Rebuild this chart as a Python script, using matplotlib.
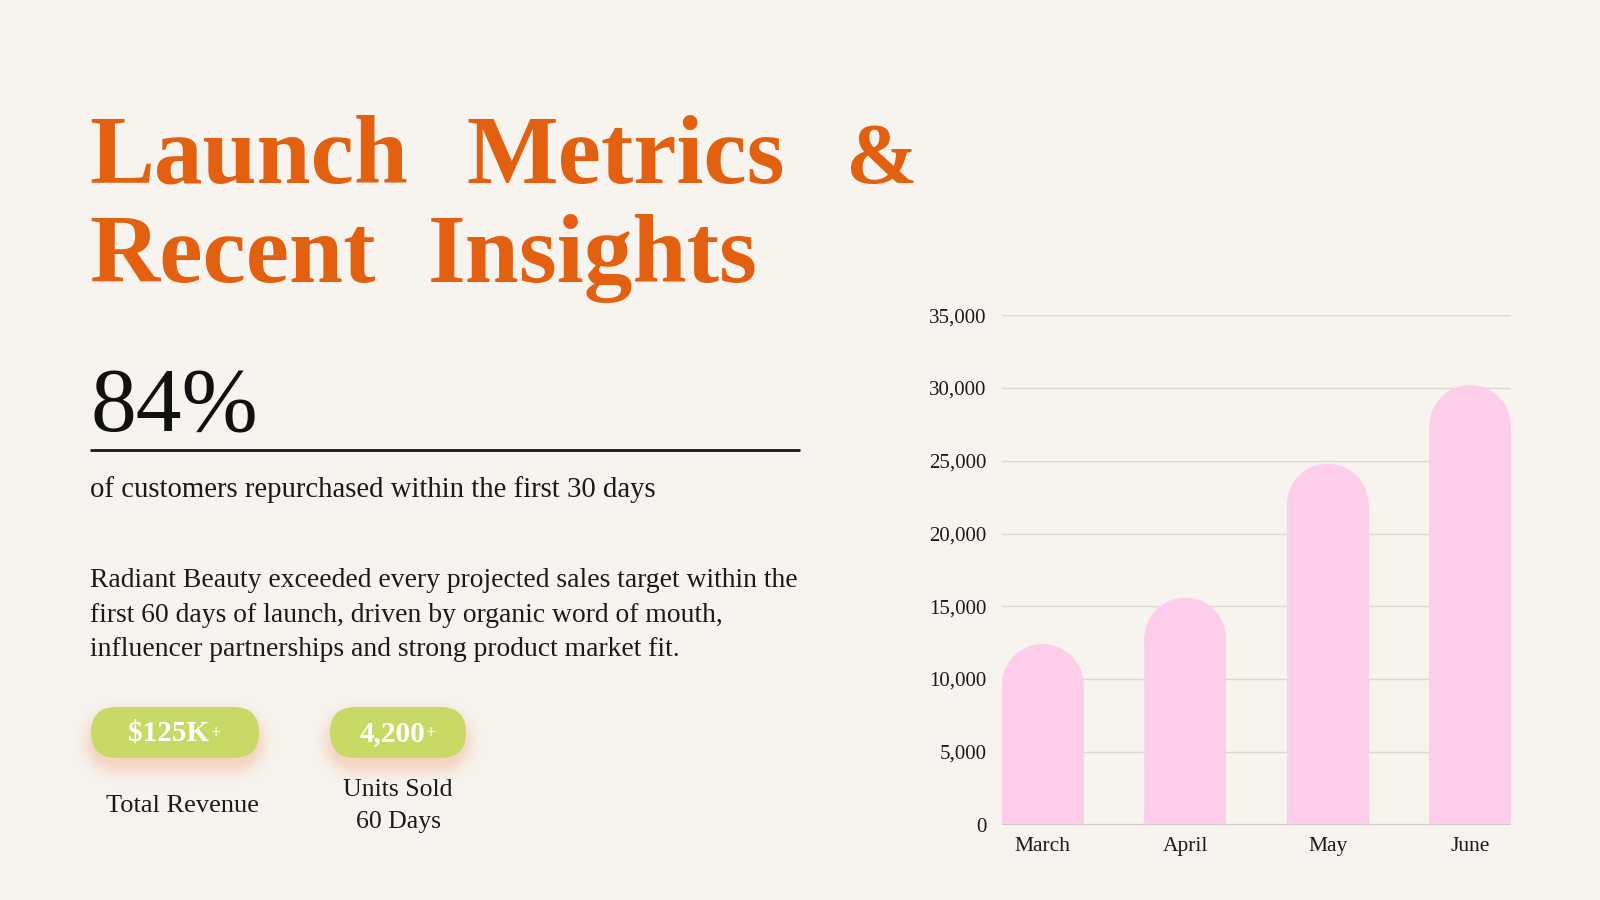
import numpy as np
import matplotlib
matplotlib.use("Agg")
import matplotlib.pyplot as plt
from matplotlib.patches import FancyBboxPatch, Ellipse
from matplotlib.ticker import FuncFormatter

# ---------------- data ----------------
months = ["March", "April", "May", "June"]
sales = [12400, 15600, 24800, 30200]
y_ticks = [0, 5000, 10000, 15000, 20000, 25000, 30000, 35000]

title_line1 = ["Launch", "Metrics", "&"]
title_line2 = ["Recent", "Insights"]
big_stat = "84%"
stat_caption = "of customers repurchased within the first 30 days"
paragraph = ["Radiant Beauty exceeded every projected sales target within the",
             "first 60 days of launch, driven by organic word of mouth,",
             "influencer partnerships and strong product market fit."]
pill_values = ["$125K", "4,200"]
pill_labels = ["Total Revenue", "Units Sold\n60 Days"]

# ---------------- style ----------------
BG = "#F7F4EF"
ORANGE = "#E2600F"
GREEN = "#C8D966"
PINK = "#FECDE9"
GRID = "#DCD8D2"
SERIF = ["Liberation Serif", "DejaVu Serif"]

plt.rcParams["font.family"] = SERIF

fig = plt.figure(figsize=(16, 9), dpi=100)
fig.patch.set_facecolor(BG)

# overlay in pixel coordinates
ov = fig.add_axes([0, 0, 1, 1])
ov.set_xlim(0, 1600)
ov.set_ylim(900, 0)
ov.axis("off")

# title (words placed individually to reproduce the wide word spacing)
line1_x = [89, 466, 846]
line2_x = [89, 428]
for word, wx in zip(title_line1, line1_x):
    ov.text(wx, 183, word, fontsize=70 if word != "&" else 62, fontweight="bold",
            color=ORANGE, ha="left", va="baseline")
for word, wx in zip(title_line2, line2_x):
    ov.text(wx, 282, word, fontsize=70, fontweight="bold", color=ORANGE,
            ha="left", va="baseline")

# big stat
ov.text(90, 431, big_stat, fontsize=66, color="#111111", ha="left", va="baseline")
ov.plot([90, 800], [450, 450], color="#1a1a1a", lw=2, solid_capstyle="butt")
ov.text(90, 497, stat_caption, fontsize=20.7, color="#1a1a1a", ha="left", va="baseline")

for i, line in enumerate(paragraph):
    ov.text(90, 587 + i * 34.7, line, fontsize=19.9, color="#1a1a1a",
            ha="left", va="baseline")

# pills
pills = [(91, 259), (330, 466)]
pill_top, pill_bot = 707, 758
h = pill_bot - pill_top

# soft glow under the pills (blurred stadium shapes)
gx0, gx1, gy0, gy1 = 40, 520, 670, 810
xx, yy = np.meshgrid(np.arange(gx0, gx1) + 0.5, np.arange(gy0, gy1) + 0.5)
alpha = np.zeros_like(xx)
for (x0, x1) in pills:
    r = h / 2
    cy = (pill_top + pill_bot) / 2 + 9
    cx = np.clip(xx, x0 + r, x1 - r)
    d = np.hypot(xx - cx, yy - cy) - r
    a = 0.5 * np.exp(-(np.clip(d + 6, 0, None) / 13.0) ** 2)
    alpha = np.maximum(alpha, a)
glow = np.zeros(xx.shape + (4,))
glow[..., 0] = 0xF3 / 255
glow[..., 1] = 0xB4 / 255
glow[..., 2] = 0x94 / 255
glow[..., 3] = alpha
ov.imshow(glow, extent=(gx0, gx1, gy1, gy0), interpolation="bilinear", zorder=1)
ov.set_xlim(0, 1600)
ov.set_ylim(900, 0)
ov.set_aspect("auto")

for (x0, x1), val in zip(pills, pill_values):
    p = FancyBboxPatch((x0, pill_top), (x1 - x0), h,
                       boxstyle=f"round,pad=0,rounding_size={h/2}",
                       facecolor=GREEN, edgecolor="none", zorder=2)
    ov.add_patch(p)
    cx = (x0 + x1) / 2 - 6
    t = ov.text(cx, (pill_top + pill_bot) / 2 + 1, val, fontsize=21, fontweight="bold",
                color="white", ha="center", va="center", zorder=3)
    ov.annotate("+", xy=(1, 0.5), xycoords=t, xytext=(1, 0), textcoords="offset points",
                fontsize=13, fontweight="bold", color="white", ha="left", va="center",
                zorder=3)

ov.text(182, 806, pill_labels[0], fontsize=19, color="#1a1a1a", ha="center", va="center")
ov.text(398, 806, pill_labels[1], fontsize=18.5, color="#1a1a1a", ha="center", va="center",
        linespacing=1.55)

# ---------------- chart ----------------
ax = fig.add_axes([1002 / 1600, (900 - 824.5) / 900, (1511 - 1002) / 1600, (824.5 - 315.3) / 900])
ax.set_facecolor("none")
x = np.arange(len(months))
w = 0.573
ax.set_xlim(-w / 2, len(months) - 1 + w / 2)
ax.set_ylim(0, 35000)
for s in ax.spines.values():
    s.set_visible(False)
ax.set_yticks(y_ticks)
ax.yaxis.set_major_formatter(FuncFormatter(lambda v, p: f"{int(v):,}"))
ax.set_xticks(x)
ax.set_xticklabels(months)
ax.tick_params(axis="y", length=0, pad=11, labelsize=15, labelcolor="#1a1a1a")
ax.tick_params(axis="x", length=0, pad=9, labelsize=15.5, labelcolor="#1a1a1a")
for v in y_ticks[1:]:
    ax.axhline(v, color=GRID, lw=1, zorder=0)
ax.axhline(0, color="#CFCAC4", lw=1.6, zorder=3)

# rounded-top bars: radius = half bar width in pixels, converted to data units
fig.canvas.draw()
bbox = ax.get_window_extent()
px_per_x = bbox.width / (ax.get_xlim()[1] - ax.get_xlim()[0])
px_per_y = bbox.height / (ax.get_ylim()[1] - ax.get_ylim()[0])
r_px = w * px_per_x / 2
r_data = r_px / px_per_y
vals = np.array(sales, dtype=float)
ax.bar(x, vals - r_data, width=w, color=PINK, zorder=2, linewidth=0)
for xi, v in zip(x, vals):
    ax.add_patch(Ellipse((xi, v - r_data), w, 2 * r_data, facecolor=PINK,
                         edgecolor="none", zorder=2))

fig.savefig("out.png", dpi=100, facecolor=BG)
